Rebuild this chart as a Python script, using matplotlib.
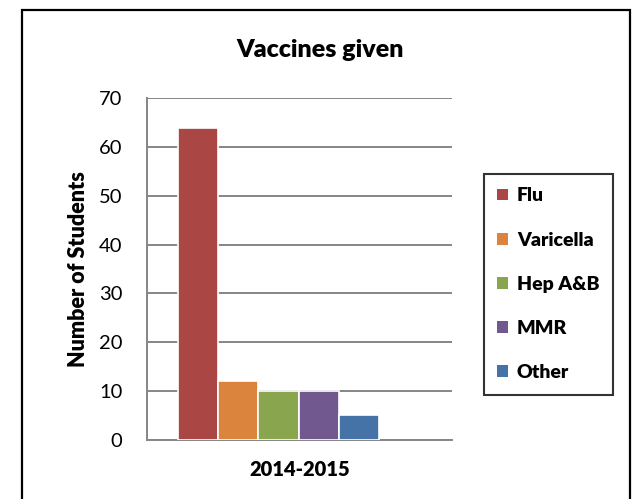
import matplotlib.pyplot as plt
from matplotlib.patches import Patch, Rectangle

plt.rcParams["font.family"] = ["Lato", "DejaVu Sans"]

vaccines = ["Flu", "Varicella", "Hep A&B", "MMR", "Other"]
students = [64, 12, 10, 10, 5]
colors = ["#AA4643", "#DB843D", "#89A54E", "#71588F", "#4572A7"]
year = "2014-2015"
y_ticks = [0, 10, 20, 30, 40, 50, 60, 70]

figure = plt.figure(figsize=(6.34, 4.99), dpi=100)
axis = figure.add_axes([0.2323, 0.1192, 0.4806, 0.6838])

# Excel-style clustered group: 6 slots, the last one empty
width = 0.1322
start = -0.4003
for i, (name, value, color) in enumerate(zip(vaccines, students, colors)):
    axis.bar(start + i * width, value, width=width, align="edge", color=color,
             edgecolor="white", linewidth=1.2, label=name, zorder=3)

axis.set_xlim(-0.5, 0.5)
axis.set_ylim(0, 70)
axis.set_yticks(y_ticks)
axis.set_xticks([0])
axis.set_xticklabels([year], fontweight="heavy", fontsize=13)
axis.tick_params(axis="both", length=0, labelsize=14.5, colors="black")
axis.tick_params(axis="x", pad=15)
axis.tick_params(axis="y", pad=18)
axis.yaxis.grid(True, color="#868686", linewidth=1.4, zorder=0)
axis.set_axisbelow(True)
for side in ("top", "right"):
    axis.spines[side].set_visible(False)
for side in ("left", "bottom"):
    axis.spines[side].set_color("#868686")
    axis.spines[side].set_linewidth(1.4)

axis.set_ylabel("Number of Students", fontweight="heavy", fontsize=15.5, labelpad=7)
figure.text(0.505, 0.90, "Vaccines given", ha="center", va="center",
            fontweight="heavy", fontsize=18)

handles = [Patch(facecolor=c, edgecolor="none") for c in colors]
legend = figure.legend(handles, vaccines, loc="upper left",
                       bbox_to_anchor=(474 / 634, 1 - 164 / 499),
                       frameon=True, fancybox=False, edgecolor="black",
                       handlelength=0.55, handleheight=0.55, handletextpad=0.45,
                       labelspacing=1.4, borderpad=0.7,
                       prop={"weight": "heavy", "size": 14})
legend.get_frame().set_linewidth(1.5)

figure.patches.append(Rectangle((22 / 634, -0.02), 608 / 634, 1.01 - 5 / 499,
                                transform=figure.transFigure, fill=False,
                                edgecolor="black", linewidth=1.6))

figure.savefig("out.png", dpi=100)
plt.close(figure)
